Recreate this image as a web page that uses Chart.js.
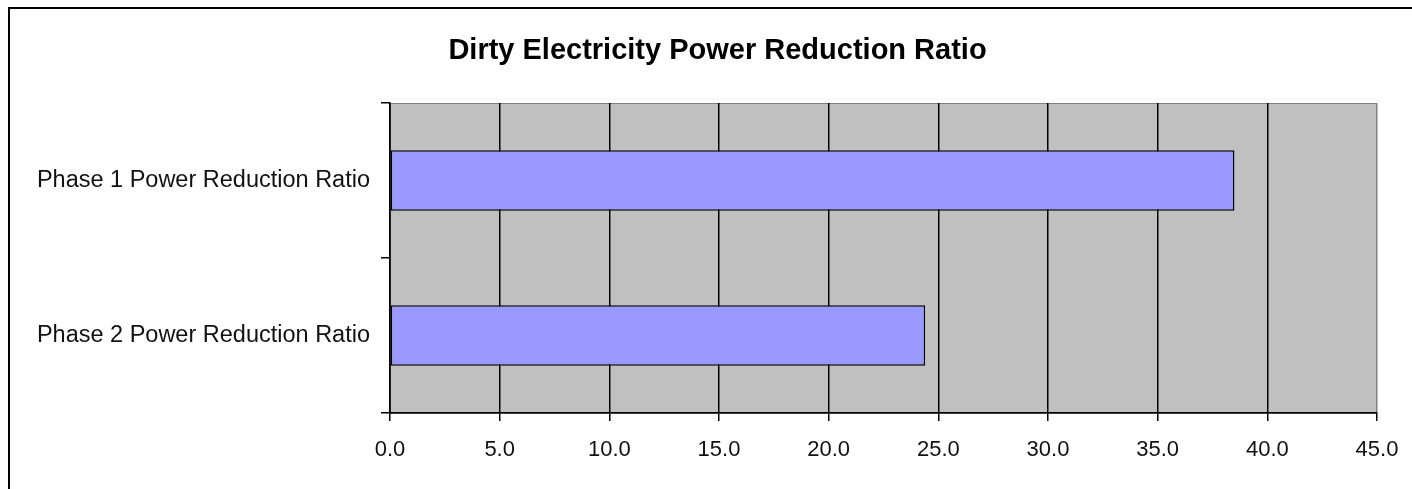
<!DOCTYPE html>
<html>
<head>
<meta charset="utf-8">
<script src="https://cdn.jsdelivr.net/npm/chart.js@4.4.0/dist/chart.umd.min.js"></script>
<style>
  body { margin: 0; background: #fff; }
  #wrap { position: relative; width: 1412px; height: 489px; }
  #frame { position: absolute; left: 8px; top: 7px; right: 0; bottom: 0; border-left: 2px solid #000; border-top: 2px solid #000; }
  canvas { position: absolute; left: 0; top: 0; }
</style>
</head>
<body>
<div id="wrap">
  <div id="frame"></div>
  <canvas id="graph1" width="1412" height="489"></canvas>
</div>
<script>
//グラフのデータ
var title = 'Dirty Electricity Power Reduction Ratio';
var labels = ['Phase 1 Power Reduction Ratio', 'Phase 2 Power Reduction Ratio'];
var values = [38.5, 24.4];
var xTicks = [0, 5, 10, 15, 20, 25, 30, 35, 40, 45];

document.addEventListener('DOMContentLoaded', function() {
  Chart.defaults.font.family = '"Liberation Sans", Arial, sans-serif';
  Chart.defaults.color = '#111';

  //プロットエリアの背景
  var plotBg = {
    id: 'plotBg',
    beforeDraw: function(chart) {
      var c = chart.ctx;
      var a = chart.chartArea;
      c.save();
      c.fillStyle = '#c0c0c0';
      c.fillRect(a.left, a.top, a.right - a.left, a.bottom - a.top);
      c.strokeStyle = '#808080';
      c.lineWidth = 1;
      c.strokeRect(a.left + 0.5, a.top + 0.5, a.right - a.left - 1, a.bottom - a.top);
      c.restore();
    },
    //タイトル（図全体の中央）
    afterDraw: function(chart) {
      var c = chart.ctx;
      c.save();
      c.font = 'bold 29px "Liberation Sans", Arial, sans-serif';
      c.fillStyle = '#000';
      c.textAlign = 'center';
      c.textBaseline = 'middle';
      c.fillText(title, 717.5, 51);
      c.restore();
    }
  };

  var ctx = document.querySelector('#graph1').getContext('2d');
  var chart = new Chart(ctx, {
    type: 'bar',
    data: {
      labels: labels,
      datasets: [{
        data: values,
        backgroundColor: '#9999ff',
        borderColor: '#000',
        borderWidth: 1.5,
        borderSkipped: false,
        barPercentage: 0.39,
        categoryPercentage: 1.0
      }]
    },
    options: {
      indexAxis: 'y',
      responsive: false,
      animation: false,
      layout: { padding: { left: 0, right: 35, top: 103, bottom: 0 } },
      plugins: {
        legend: { display: false },
        tooltip: { enabled: false },
        title: { display: false }
      },
      scales: {
        x: {
          min: 0,
          max: 45,
          afterBuildTicks: function(axis) {
            axis.ticks = xTicks.map(function(v) { return { value: v }; });
          },
          afterFit: function(axis) {
            axis.height = 76;
            axis.paddingRight = 35;
          },
          border: { color: '#000', width: 1.5 },
          grid: {
            color: function(c) { return c.tick && c.tick.value === 45 ? '#808080' : '#000'; },
            tickColor: '#000',
            lineWidth: 1.5,
            tickLength: 8
          },
          ticks: {
            font: { size: 22 },
            padding: 16,
            callback: function(v) { return Number(v).toFixed(1); }
          }
        },
        y: {
          afterFit: function(axis) { axis.width = 390; },
          border: { color: '#000', width: 1.5 },
          grid: {
            offset: true,
            drawOnChartArea: false,
            tickColor: '#000',
            lineWidth: 1.5,
            tickLength: 9
          },
          ticks: {
            font: { size: 23.5 },
            padding: 11
          }
        }
      }
    },
    plugins: [plotBg]
  });
});
</script>
</body>
</html>
